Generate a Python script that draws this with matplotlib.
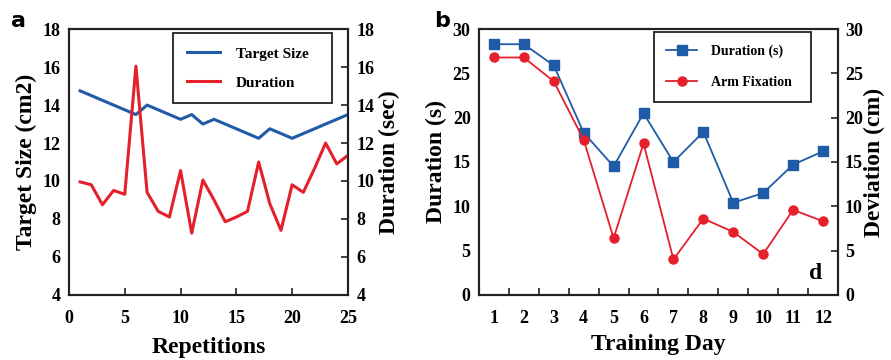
import matplotlib
matplotlib.use("Agg")
import matplotlib.pyplot as plt
from matplotlib.ticker import FixedLocator, NullFormatter

# ---------------- data ----------------
# Panel a
target_x = [1, 6, 7, 10, 11, 12, 13, 17, 18, 20, 25]
target_size = [14.75, 13.5, 14.0, 13.25, 13.5, 13.0, 13.25, 12.25, 12.75, 12.25, 13.5]
reps = list(range(1, 26))
duration_sec = [9.95, 9.8, 8.75, 9.5, 9.3, 16.05, 9.4, 8.4, 8.1, 10.55,
                7.25, 10.05, 9.0, 7.85, 8.1, 8.4, 11.0, 8.8, 7.4, 9.8,
                9.4, 10.65, 12.0, 10.9, 11.35]
a_left_ticks = [4, 6, 8, 10, 12, 14, 16, 18]
a_x_ticks = [0, 5, 10, 15, 20, 25]

# Panel b
days = list(range(1, 13))
duration_s = [28.3, 28.3, 25.9, 18.3, 14.5, 20.5, 15.0, 18.4, 10.4, 11.5, 14.7, 16.2]
arm_fixation = [26.8, 26.8, 24.1, 17.5, 6.4, 17.1, 4.0, 8.6, 7.1, 4.6, 9.6, 8.3]
b_y_ticks = [0, 5, 10, 15, 20, 25, 30]

BLUE = "#1f5ba6"
RED = "#e5202b"
SPINE = "#222222"

plt.rcParams['font.family'] = ['Liberation Serif', 'DejaVu Serif']
plt.rcParams['font.weight'] = 'bold'
plt.rcParams['axes.labelweight'] = 'bold'

fig = plt.figure(figsize=(8.91, 3.6), dpi=100)

tick_fs = 13
lab_fs = 17

# ---------------- panel a ----------------
axa = fig.add_axes([0.0774, 0.181, 0.3131, 0.738])
l1, = axa.plot(target_x, target_size, color=BLUE, lw=2.2, label="Target Size")
axa.set_xlim(0, 25)
axa.set_ylim(4, 18)
axa.set_yticks(a_left_ticks)
axa.set_xticks(a_x_ticks)
axa.tick_params(axis='y', which='both', length=0, labelsize=tick_fs, pad=6)
axa.tick_params(axis='x', direction='in', length=5, width=1.2, labelsize=tick_fs, pad=11,
                color=SPINE)
axa.set_xlabel("Repetitions", fontsize=lab_fs, labelpad=7)
axa.set_ylabel("Target Size (cm2)", fontsize=lab_fs, labelpad=4)
for s in axa.spines.values():
    s.set_linewidth(1.5)
    s.set_color(SPINE)

axa2 = axa.twinx()
l2, = axa2.plot(reps, duration_sec, color=RED, lw=2.2, label="Duration")
axa2.set_ylim(4, 18)
axa2.set_yticks(a_left_ticks)
axa2.tick_params(axis='y', direction='in', length=5, width=1.2, labelsize=tick_fs, pad=6,
                 color=SPINE)
axa2.set_ylabel("Duration (sec)", fontsize=lab_fs, labelpad=3)
for s in axa2.spines.values():
    s.set_linewidth(1.5)
    s.set_color(SPINE)

leg = axa2.legend(handles=[l1, l2], loc='upper left',
                  bbox_to_anchor=(0.373, 0.722, 0.57, 0.263), mode='expand',
                  borderaxespad=0,
                  fancybox=False, edgecolor=SPINE, framealpha=1,
                  prop={'size': 11, 'weight': 'bold'}, handlelength=2.2,
                  labelspacing=1.0, borderpad=0.9, handletextpad=1.0)
leg.get_frame().set_linewidth(1.3)

fig.text(0.012, 0.925, "a", fontsize=16, fontweight='bold', family='DejaVu Sans')

# ---------------- panel b ----------------
axb = fig.add_axes([0.5376, 0.181, 0.4029, 0.738])
h1, = axb.plot(days, duration_s, color=BLUE, lw=1.3, marker='s', ms=6.5,
               label="Duration (s)")
axb.set_xlim(0.5, 12.5)
axb.set_ylim(0, 30)
axb.set_yticks(b_y_ticks)
axb.set_xticks(days)
axb.xaxis.set_minor_locator(FixedLocator([d + 0.5 for d in days[:-1]]))
axb.xaxis.set_minor_formatter(NullFormatter())
axb.tick_params(axis='x', which='major', length=0, labelsize=tick_fs, pad=11)
axb.tick_params(axis='x', which='minor', direction='in', length=5, width=1.2, color=SPINE)
axb.tick_params(axis='y', which='both', length=0, labelsize=tick_fs, pad=6)
axb.set_xlabel("Training Day", fontsize=lab_fs, labelpad=5)
axb.set_ylabel("Duration (s)", fontsize=lab_fs, labelpad=4)
for s in axb.spines.values():
    s.set_linewidth(1.5)
    s.set_color(SPINE)

axb2 = axb.twinx()
h2, = axb2.plot(days, arm_fixation, color=RED, lw=1.3, marker='o', ms=6.5,
                label="Arm Fixation")
axb2.set_ylim(0, 30)
axb2.set_yticks(b_y_ticks)
axb2.tick_params(axis='y', direction='in', length=5, width=1.2, labelsize=tick_fs, pad=5,
                 color=SPINE)
axb2.set_ylabel("Deviation (cm)", fontsize=lab_fs, labelpad=1)
for s in axb2.spines.values():
    s.set_linewidth(1.5)
    s.set_color(SPINE)

legb = axb2.legend(handles=[h1, h2], loc='upper left',
                   bbox_to_anchor=(0.487, 0.726, 0.438, 0.263), mode='expand',
                   borderaxespad=0,
                   fancybox=False, edgecolor=SPINE, framealpha=1,
                   prop={'size': 10, 'weight': 'bold'}, handlelength=2.2,
                   labelspacing=1.3, borderpad=0.9, handletextpad=1.0)
legb.get_frame().set_linewidth(1.3)

axb2.text(11.75, 2.4, "d", fontsize=17, fontweight='bold', ha='center', va='center')

fig.text(0.487, 0.925, "b", fontsize=16, fontweight='bold', family='DejaVu Sans')

fig.savefig("out.png", dpi=100)
